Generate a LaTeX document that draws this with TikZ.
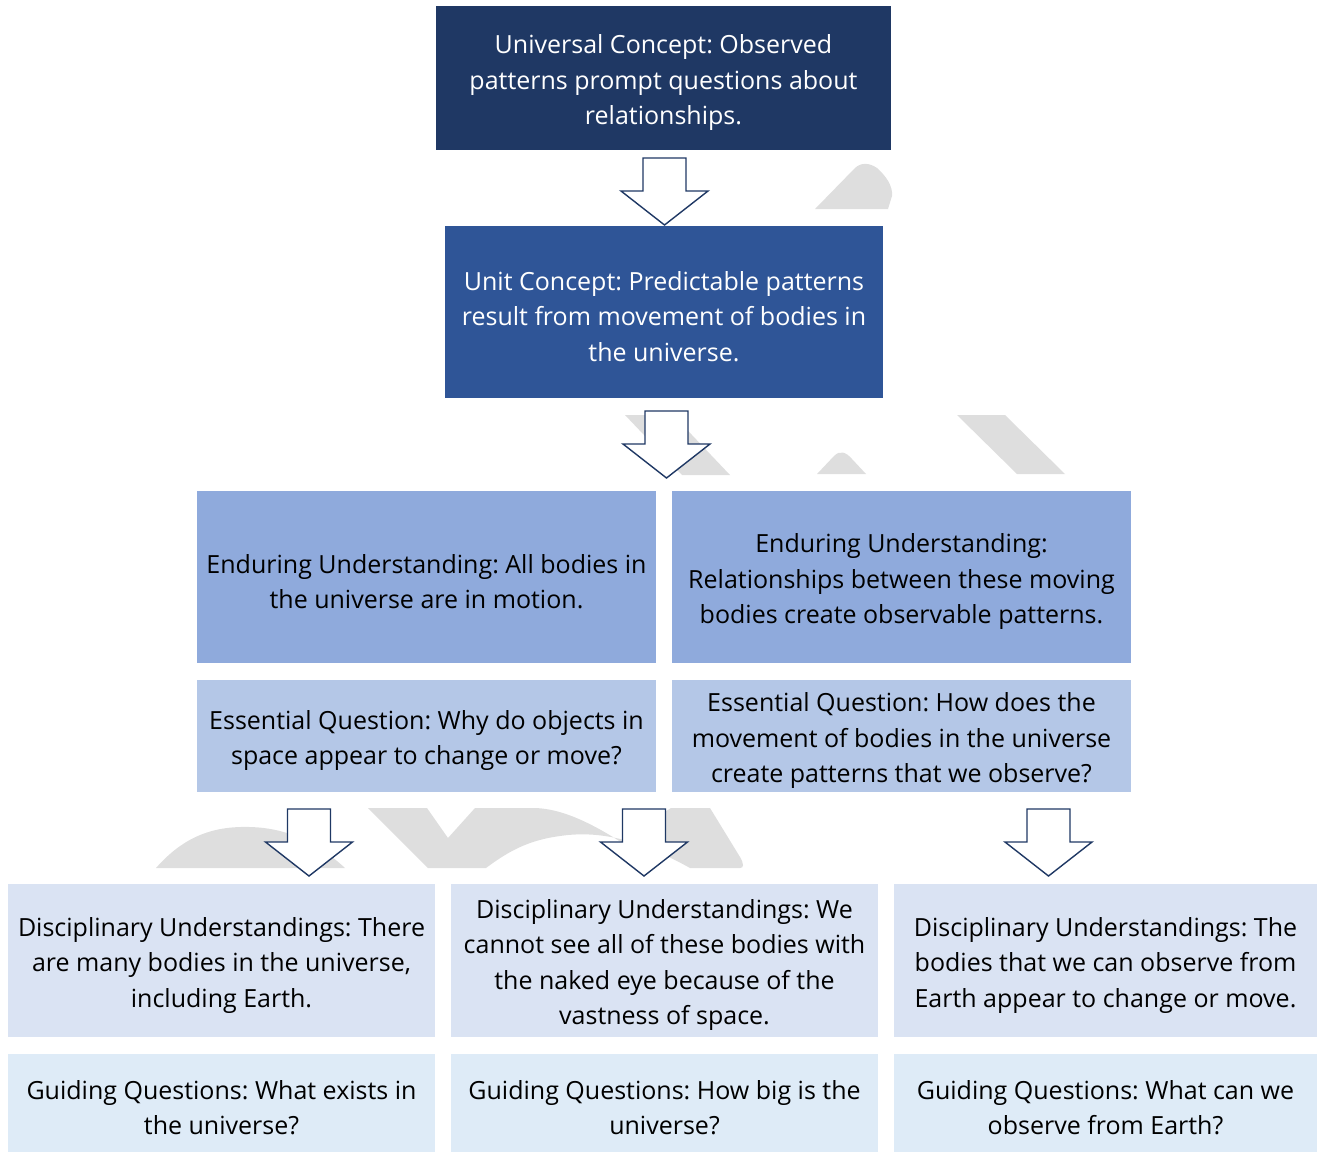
\documentclass[tikz,border=0pt]{standalone}
\usepackage{fontspec}
\setmainfont{Open Sans}
\frenchspacing
\begin{document}
\begin{tikzpicture}[x=1pt,y=-1pt,
  box/.style={inner sep=0pt, outer sep=0pt, draw=none},
  words/.style={inner sep=0pt, align=center, yshift=-4.5pt,
    font=\fontsize{25}{35.5}\selectfont},
  boxA/.style={box, fill=navyA, label={[words, text=white]center:#1}},
  boxB/.style={box, fill=blueB, label={[words, text=white]center:#1}},
  boxEU/.style={box, fill=blueEU, label={[words]center:#1}},
  boxEQ/.style={box, fill=blueEQ, label={[words]center:#1}},
  boxDU/.style={box, fill=blueDU, label={[words]center:#1}},
  boxGQ/.style={box, fill=blueGQ, label={[words]center:#1}},
  arrowline/.style={draw=navyA, line width=1.4pt, fill=white, line join=miter},
  backshape/.style={fill=greyBG, draw=none},
  pics/downarrow/.style={code={
    \draw[arrowline] (-21.5,0) -- (21.5,0) -- (21.5,33) -- (43.5,33) -- (0,67)
      -- (-43.5,33) -- (-21.5,33) -- cycle;}}
]
\definecolor{navyA}{RGB}{31,56,100}
\definecolor{blueB}{RGB}{47,85,151}
\definecolor{blueEU}{RGB}{143,170,220}
\definecolor{blueEQ}{RGB}{180,199,231}
\definecolor{blueDU}{RGB}{218,227,243}
\definecolor{blueGQ}{RGB}{222,235,247}
\definecolor{greyBG}{RGB}{222,222,222}

\useasboundingbox (0,0) rectangle (1317,1152);

% pale logo fragments in the background
\fill[backshape] (815,209) -- (855,168) .. controls (861,162) and (870,163) .. (877,168)
  .. controls (886,176) and (893,186) .. (892,196) -- (888,209) -- cycle;
\fill[backshape] (625,415) -- (673,415) -- (730,475) -- (682,475) -- cycle;
\fill[backshape] (817,474) -- (834,456) .. controls (840,450) and (846,452) .. (852,459) -- (866,474) -- cycle;
\fill[backshape] (957,415) -- (1005,415) -- (1065,474) -- (1017,474) -- cycle;
\fill[backshape] (156,868) .. controls (185,835) and (215,826) .. (250,827)
  .. controls (290,828) and (320,845) .. (345,868) -- cycle;
\fill[backshape] (368,808) -- (427,808) -- (448,838) -- (475,808) -- (533,808)
  .. controls (565,808) and (600,828) .. (630,848) -- (660,815) -- (671,808) -- (710,808)
  -- (740,857) .. controls (744,864) and (744,868) .. (740,868) -- (690,868)
  .. controls (640,840) and (600,830) .. (560,836) .. controls (530,840) and (510,850) .. (486,868)
  -- (428,868) -- cycle;

% boxes
\node[boxA={Universal Concept: Observed\\patterns prompt questions about\\relationships.},
  minimum width=455pt, minimum height=144pt] (uc) at (663.5,78) {};
\node[boxB={Unit Concept: Predictable patterns\\result from movement of bodies in\\the universe.},
  minimum width=438pt, minimum height=172pt] (unit) at (664,312) {};
\node[boxEU={Enduring Understanding: All bodies in\\the universe are in motion.},
  minimum width=459pt, minimum height=172pt] (eu1) at (426.5,577) {};
\node[boxEU={Enduring Understanding:\\Relationships between these moving\\bodies create observable patterns.},
  minimum width=459pt, minimum height=172pt] (eu2) at (901.5,577) {};
\node[boxEQ={Essential Question: Why do objects in\\space appear to change or move?},
  minimum width=459pt, minimum height=112pt] (eq1) at (426.5,736) {};
\node[boxEQ={Essential Question: How does the\\movement of bodies in the universe\\create patterns that we observe?},
  minimum width=459pt, minimum height=112pt] (eq2) at (901.5,736) {};
\node[boxDU={Disciplinary Understandings: There\\are many bodies in the universe,\\including Earth.},
  minimum width=427pt, minimum height=153pt] (du1) at (221.5,960.5) {};
\node[boxDU={Disciplinary Understandings: We\\cannot see all of these bodies with\\the naked eye because of the\\vastness of space.},
  minimum width=427pt, minimum height=153pt] (du2) at (664.5,960.5) {};
\node[boxDU={Disciplinary Understandings: The\\bodies that we can observe from\\Earth appear to change or move.},
  minimum width=423pt, minimum height=153pt] (du3) at (1105.5,960.5) {};
\node[boxGQ={Guiding Questions: What exists in\\the universe?},
  minimum width=427pt, minimum height=98pt] (gq1) at (221.5,1103) {};
\node[boxGQ={Guiding Questions: How big is the\\universe?},
  minimum width=427pt, minimum height=98pt] (gq2) at (664.5,1103) {};
\node[boxGQ={Guiding Questions: What can we\\observe from Earth?},
  minimum width=423pt, minimum height=98pt] (gq3) at (1105.5,1103) {};

% block arrows between the levels
\pic at (664.5,158) {downarrow};
\pic at (666.5,411) {downarrow};
\pic at (309,809) {downarrow};
\pic at (644,809) {downarrow};
\pic at (1048.5,809) {downarrow};
\end{tikzpicture}
\end{document}
